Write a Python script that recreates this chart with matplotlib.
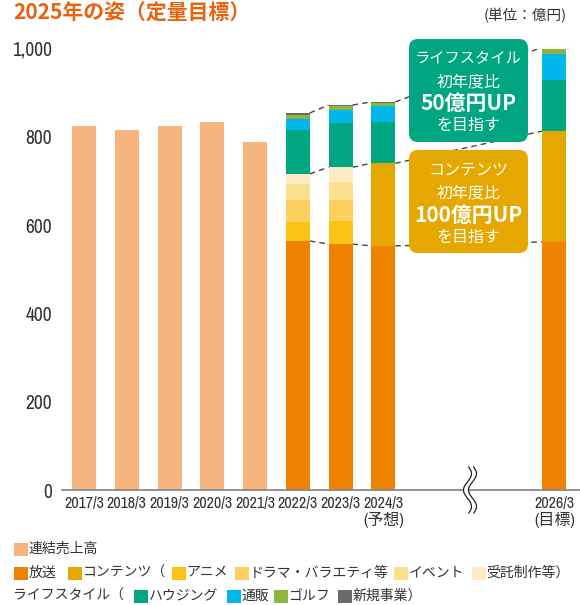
import matplotlib
matplotlib.use("Agg")
import matplotlib.pyplot as plt
from matplotlib.patches import FancyBboxPatch, Rectangle, Polygon
from matplotlib import font_manager as fm
import numpy as np

plt.rcParams['font.family'] = ['Noto Sans CJK JP', 'DejaVu Sans']

# ---------------- data ----------------
x_labels = ['2017/3', '2018/3', '2019/3', '2020/3', '2021/3', '2022/3', '2023/3',
            '2024/3\n(予想)', '2026/3\n(目標)']
x_pos = [0, 1, 2, 3, 4, 5, 6, 7, 11]

consolidated_years = ['2017/3', '2018/3', '2019/3', '2020/3', '2021/3']
consolidated = [824, 815, 824, 833, 788]

seg_years = ['2022/3', '2023/3', '2024/3', '2026/3']
broadcast = [564, 557, 553, 562]
anime = [43, 52, 0, 0]
drama = [50, 47, 0, 0]
event = [36, 41, 0, 0]
contract = [23, 34, 0, 0]
contents = [0, 0, 187, 251]
housing = [100, 100, 94, 115]
tsuhan = [25, 29, 35, 59]
golf = [9, 9, 8, 11]
new_biz = [4, 3, 2, 5]

# colors
C_CONS = '#F6B47F'
C_BROAD = '#EF8200'
C_CONT = '#E5A800'
C_ANIME = '#FAC315'
C_DRAMA = '#FCD05E'
C_EVENT = '#FDDF90'
C_CONTR = '#FEEBC6'
C_HOUS = '#00A681'
C_TSU = '#00B6EB'
C_GOLF = '#8DB83D'
C_NEW = '#6A6A6A'
TXT = '#333333'

# pick a narrow sans font for the numeric labels if one is installed
entries = fm.fontManager.ttflist
names = {f.name for f in entries}
narrow_name, narrow_stretch, xt_size, yt_size = None, 'normal', 9.0, 11.5
if 'Liberation Sans Narrow' in names:
    narrow_name, xt_size, yt_size = 'Liberation Sans Narrow', 10.5, 12.5
else:
    for f in entries:
        if ('Condensed' in f.name or 'Narrow' in f.name) and 'Mono' not in f.name and 'Serif' not in f.name:
            narrow_name, xt_size, yt_size = f.name, 11.5, 14.0
            break
    if narrow_name is None:
        for f in entries:
            if f.name == 'DejaVu Sans' and str(f.stretch) not in ('normal', '500'):
                narrow_name, narrow_stretch, xt_size, yt_size = 'DejaVu Sans', 'condensed', 9.5, 12.0
                break
if narrow_name is None:
    narrow_name = 'Liberation Sans'
narrow = [narrow_name, 'Noto Sans CJK JP', 'DejaVu Sans']

W, H = 580, 605
fig = plt.figure(figsize=(W / 100, H / 100), dpi=100)

ax_left, ax_right, ax_bottom, ax_top = 62, 580, 490, 48.5
ax = fig.add_axes([ax_left / W, 1 - ax_bottom / H, (ax_right - ax_left) / W, (ax_bottom - ax_top) / H])
ax.set_xlim(-0.515, 11.6)
ax.set_ylim(0, 1000)

bw = 0.56
cons_x = [x_pos[x_labels.index(y)] for y in consolidated_years]
ax.bar(cons_x, consolidated, width=bw, color=C_CONS, zorder=2)

seg_x = [5, 6, 7, 11]
stack = [(broadcast, C_BROAD), (anime, C_ANIME), (drama, C_DRAMA), (event, C_EVENT),
         (contract, C_CONTR), (contents, C_CONT), (housing, C_HOUS), (tsuhan, C_TSU),
         (golf, C_GOLF), (new_biz, C_NEW)]
bottom = np.zeros(len(seg_x))
for vals, col in stack:
    v = np.array(vals, dtype=float)
    ax.bar(seg_x, v, bottom=bottom, width=bw, color=col, zorder=2)
    bottom = bottom + v

# dashed connector lines
b = np.array(broadcast, float)
lvl_broad = b
lvl_cont = b + np.array(anime) + np.array(drama) + np.array(event) + np.array(contract) + np.array(contents)
lvl_total = bottom
for lvl in (lvl_broad, lvl_cont, lvl_total):
    for i in range(len(seg_x) - 1):
        ax.plot([seg_x[i] + bw / 2, seg_x[i + 1] - bw / 2], [lvl[i], lvl[i + 1]],
                color='#444444', lw=1.0, ls=(0, (4, 3)), zorder=1)

for s in ['top', 'right', 'left']:
    ax.spines[s].set_visible(False)
ax.spines['bottom'].set_color('#8a8a8a')
ax.spines['bottom'].set_linewidth(1.3)
ax.set_yticks([0, 200, 400, 600, 800, 1000])
ax.set_yticklabels(['0', '200', '400', '600', '800', '1,000'])
ax.tick_params(axis='y', length=0, pad=7, labelsize=yt_size, labelcolor=TXT)
ax.set_xticks(x_pos)
ax.set_xticklabels(x_labels, linespacing=1.1)
ax.tick_params(axis='x', length=0, pad=4, labelsize=xt_size, labelcolor=TXT)
for t in ax.get_yticklabels() + ax.get_xticklabels():
    t.set_family(narrow)
    t.set_stretch(narrow_stretch)

# ---------------- overlay in pixel coords ----------------
ov = fig.add_axes([0, 0, 1, 1], zorder=10)
ov.set_xlim(0, W)
ov.set_ylim(H, 0)
ov.set_axis_off()

ov.text(13, 13, '2025年の姿（定量目標）', fontsize=15, fontweight='bold', color='#E9620E',
        ha='left', va='center')
ov.text(567, 16, '(単位：億円)', fontsize=10.5, color=TXT, ha='right', va='center')

# annotation boxes
ov.add_patch(FancyBboxPatch((409, 39), 119, 103, boxstyle='round,pad=0,rounding_size=9',
                            fc=C_HOUS, ec='none'))
ov.add_patch(FancyBboxPatch((409, 150), 119, 103, boxstyle='round,pad=0,rounding_size=9',
                            fc=C_CONT, ec='none'))
cx = 468.5
for (y, s, fs, fw) in [(59, 'ライフスタイル', 11, 'normal'), (82, '初年度比', 11.5, 'normal'),
                       (103, '50億円UP', 15, 'bold'), (125, 'を目指す', 11.5, 'normal'),
                       (170, 'コンテンツ', 11.5, 'normal'), (193, '初年度比', 11.5, 'normal'),
                       (215, '100億円UP', 15, 'bold'), (237, 'を目指す', 11.5, 'normal')]:
    ov.text(cx, y, s, fontsize=fs, fontweight=fw, color='white', ha='center', va='center')

# axis break marker
t = np.linspace(0, 1, 60)
yy = 467 + 46 * t
xx = 470 + 4 * np.sin(2 * np.pi * 1.4 * t + 0.3)
left = np.column_stack([xx - 2.5, yy])
right = np.column_stack([xx + 2.5, yy])
ov.add_patch(Polygon(np.vstack([left, right[::-1]]), closed=True, fc='white', ec='none'))
ov.plot(left[:, 0], left[:, 1], color='#222222', lw=0.9)
ov.plot(right[:, 0], right[:, 1], color='#222222', lw=0.9)

# legend
def sq(x, y, c):
    ov.add_patch(Rectangle((x, y - 6.5), 13.5, 13.5, fc=c, ec='none'))

LFS = 10
def lt(x, y, s):
    ov.text(x, y, s, fontsize=LFS, color=TXT, ha='left', va='center')

r1, r2, r3 = 549, 573, 596
sq(14, r1, C_CONS); lt(28.5, r1, '連結売上高')
sq(14, r2, C_BROAD); lt(28.5, r2, '放送')
sq(68, r2, C_CONT); lt(82.5, r2, 'コンテンツ（')
sq(172, r2, C_ANIME); lt(186, r2, 'アニメ')
sq(235, r2, C_DRAMA); lt(249.5, r2, 'ドラマ・バラエティ等')
sq(394, r2, C_EVENT); lt(408.5, r2, 'イベント')
sq(472, r2, C_CONTR); lt(486.5, r2, '受託制作等）')
lt(13, r3, 'ライフスタイル（')
sq(134, r3, C_HOUS); lt(148.5, r3, 'ハウジング')
sq(227, r3, C_TSU); lt(241.5, r3, '通販')
sq(274, r3, C_GOLF); lt(288.5, r3, 'ゴルフ')
sq(338, r3, C_NEW); lt(352.5, r3, '新規事業）')

fig.savefig('out.png', dpi=100)
